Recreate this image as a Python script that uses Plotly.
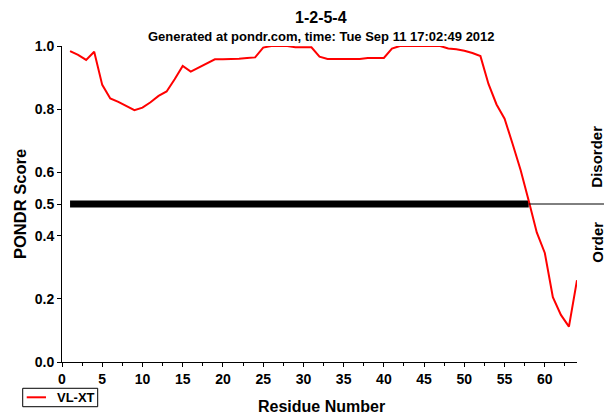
import plotly.graph_objects as go

residues = list(range(1, 65))
scores = [
    0.984, 0.972, 0.956, 0.982, 0.877, 0.834, 0.823, 0.811, 0.797, 0.805,
    0.822, 0.842, 0.856, 0.895, 0.937, 0.919, 0.932, 0.945, 0.958, 0.958,
    0.958, 0.960, 0.962, 0.964, 0.995, 1.000, 1.000, 1.000, 0.996, 0.996,
    0.996, 0.966, 0.959, 0.959, 0.959, 0.959, 0.959, 0.962, 0.962, 0.962,
    0.992, 1.000, 1.000, 1.000, 1.000, 1.000, 1.000, 0.992, 0.990, 0.985,
    0.978, 0.968, 0.880, 0.815, 0.770, 0.690, 0.607, 0.510, 0.410, 0.345,
    0.205, 0.149, 0.112, 0.259,
]
series_name = "VL-XT"
disorder_start = 1
disorder_end = 58
threshold = 0.5
y_tick_vals = [0.0, 0.2, 0.4, 0.5, 0.6, 0.8, 1.0]
y_tick_text = ["0.0", "0.2", "0.4", "0.5", "0.6", "0.8", "1.0"]

FONT = "Liberation Sans, Arial, Helvetica, sans-serif"
RED = "#ff0000"

fig = go.Figure()
fig.add_trace(go.Scatter(
    x=[disorder_start, disorder_end], y=[threshold, threshold],
    mode="lines", line=dict(color="black", width=7), showlegend=False,
    hoverinfo="skip",
))
fig.add_trace(go.Scatter(
    x=residues, y=scores, mode="lines", name=series_name,
    line=dict(color=RED, width=2), showlegend=False,
))

# thin threshold line extending past the plot on the right
fig.add_shape(type="line", xref="paper", yref="paper",
              x0=disorder_end / 64, x1=1.0524, y0=threshold, y1=threshold,
              line=dict(color="black", width=1))

# legend box (drawn manually so it does not push the margins)
fig.add_shape(type="rect", xref="paper", yref="paper",
              x0=-0.0763, x1=0.0693, y0=-0.0832, y1=-0.1415,
              line=dict(color="black", width=1), fillcolor="white")
fig.add_shape(type="line", xref="paper", yref="paper",
              x0=-0.0685, x1=-0.0311, y0=-0.1117, y1=-0.1117,
              line=dict(color=RED, width=2))

ann_font = dict(family=FONT, color="black", weight="bold")
fig.add_annotation(text=series_name, xref="paper", yref="paper", x=-0.0136, y=-0.1117,
                   showarrow=False, xanchor="left", yanchor="middle",
                   font=dict(size=13, **ann_font))
fig.add_annotation(text="1-2-5-4", xref="paper", yref="paper", x=0.503, y=1.0896,
                   showarrow=False, xanchor="center", yanchor="middle",
                   font=dict(size=16, **ann_font))
fig.add_annotation(text="Generated at pondr.com, time: Tue Sep 11 17:02:49 2012",
                   xref="paper", yref="paper", x=0.503, y=1.0316,
                   showarrow=False, xanchor="center", yanchor="middle",
                   font=dict(size=13, **ann_font))
fig.add_annotation(text="PONDR Score", xref="paper", yref="paper", x=-0.0816, y=0.5,
                   textangle=-90, showarrow=False, xanchor="center", yanchor="middle",
                   font=dict(size=16.5, **ann_font))
fig.add_annotation(text="Residue Number", xref="paper", yref="paper", x=0.503, y=-0.1424,
                   showarrow=False, xanchor="center", yanchor="middle",
                   font=dict(size=16, **ann_font))
fig.add_annotation(text="Disorder", xref="paper", yref="paper", x=1.039, y=0.650,
                   textangle=-90, showarrow=False, xanchor="center", yanchor="middle",
                   font=dict(size=15, **ann_font))
fig.add_annotation(text="Order", xref="paper", yref="paper", x=1.039, y=0.378,
                   textangle=-90, showarrow=False, xanchor="center", yanchor="middle",
                   font=dict(size=15, **ann_font))

tick_font = dict(family=FONT, size=14, color="black", weight="bold")
fig.update_xaxes(
    range=[0, 64], tickmode="linear", tick0=0, dtick=5,
    ticks="outside", ticklen=4, tickwidth=1, tickcolor="black",
    showline=True, linecolor="black", linewidth=1, showgrid=False, zeroline=False,
    tickfont=tick_font,
    minor=dict(dtick=2.5, tick0=0, ticks="outside", ticklen=3, tickcolor="black", showgrid=False),
)
fig.update_yaxes(
    range=[0, 1.0], tickmode="array", tickvals=y_tick_vals, ticktext=y_tick_text,
    ticks="outside", ticklen=4, tickwidth=1, tickcolor="black",
    showline=True, linecolor="black", linewidth=1, showgrid=False, zeroline=False,
    tickfont=tick_font,
)
fig.update_layout(
    width=616, height=416, autosize=False,
    margin=dict(l=62, r=39, t=46, b=54),
    plot_bgcolor="white", paper_bgcolor="white",
    font=dict(family=FONT, color="black"),
    showlegend=False,
)

post = (
    "document.documentElement.style.margin='0';"
    "document.documentElement.style.overflow='hidden';"
    "document.body.style.margin='0';"
    "document.body.style.overflow='hidden';"
)

fig.write_html(
    "out.html",
    config={"responsive": False, "displayModeBar": False},
    post_script=post,
)
